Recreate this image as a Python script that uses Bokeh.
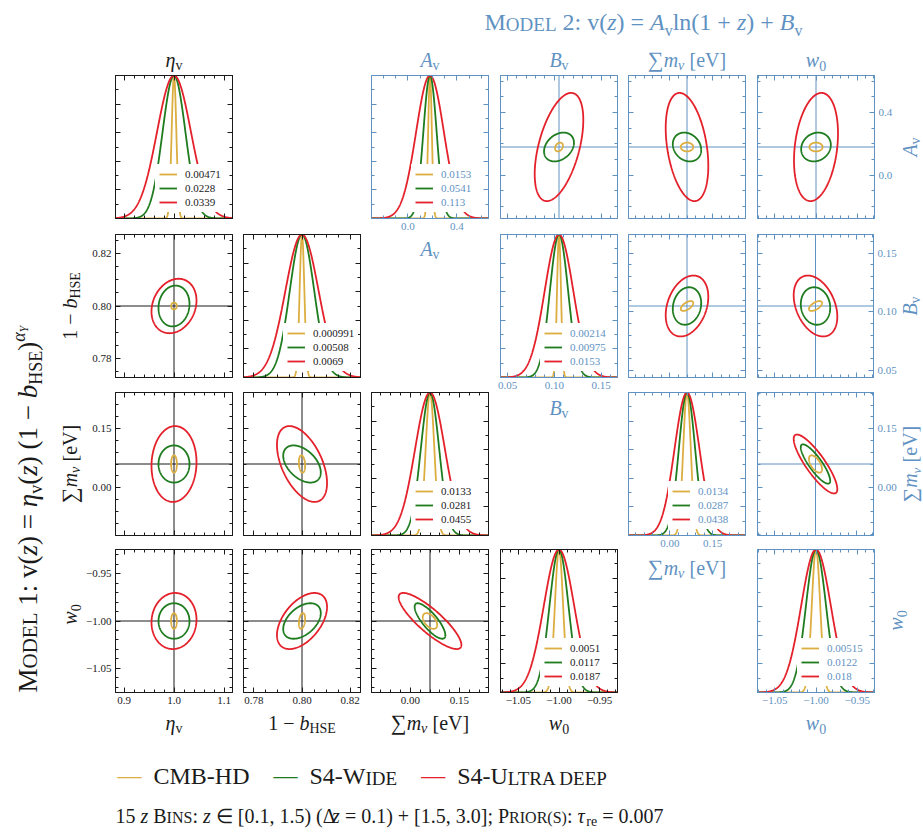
import numpy as np
from bokeh.plotting import figure
from bokeh.models import Range1d, LinearAxis, FixedTicker, Span, Label, Legend, LegendItem, Spacer
from bokeh.layouts import row, column
from bokeh.embed import file_html
from bokeh.resources import INLINE

# ---------------------------------------------------------------- data
experiments = ["CMB-HD", "S4-Wide", "S4-Ultra deep"]
exp_colors = ["#dcae40", "#1e7b1e", "#e4212b"]

# fiducial values
fid_eta, fid_bhse, fid_mnu, fid_w0 = 1.0, 0.80, 0.06, -1.0
fid_Av, fid_Bv = 0.18, 0.105

# Model 1: 1D marginal errors (legend values)  [CMB-HD, S4-Wide, S4-Ultra deep]
m1_sigma_eta = [0.00471, 0.0228, 0.0339]
m1_sigma_bhse = [0.000991, 0.00508, 0.0069]
m1_sigma_mnu = [0.0133, 0.0281, 0.0455]
m1_sigma_w0 = [0.0051, 0.0117, 0.0187]
# Model 1: half extents of the plotted 2D contours
m1_contour_eta = [0.0058, 0.031, 0.045]
m1_contour_bhse = [0.0013, 0.0078, 0.0104]
m1_contour_mnu = [0.022, 0.047, 0.096]
m1_contour_w0 = [0.0083, 0.0188, 0.0297]
# Model 1: correlation coefficients of the contours
m1_corr_eta_bhse = [0.0, 0.1, 0.2]
m1_corr_eta_mnu = [0.0, 0.0, 0.05]
m1_corr_bhse_mnu = [-0.2, -0.45, -0.5]
m1_corr_eta_w0 = [0.0, 0.0, 0.05]
m1_corr_bhse_w0 = [0.3, 0.45, 0.5]
m1_corr_mnu_w0 = [-0.5, -0.8, -0.85]

# Model 2
m2_sigma_Av = [0.0153, 0.0541, 0.113]
m2_sigma_Bv = [0.00214, 0.00975, 0.0153]
m2_sigma_mnu = [0.0134, 0.0287, 0.0438]
m2_sigma_w0 = [0.00515, 0.0122, 0.018]
m2_contour_Av = [0.028, 0.092, 0.345]
m2_contour_Bv = [0.0042, 0.016, 0.026]
m2_contour_mnu = [0.022, 0.050, 0.075]
m2_contour_w0 = [0.008, 0.018, 0.0267]
m2_corr_Av_Bv = [0.3, 0.3, 0.5]
m2_corr_Av_mnu = [0.0, -0.2, -0.35]
m2_corr_Av_w0 = [0.0, 0.15, 0.25]
m2_corr_Bv_mnu = [0.6, 0.15, 0.3]
m2_corr_Bv_w0 = [0.6, -0.1, -0.35]
m2_corr_mnu_w0 = [-0.6, -0.85, -0.85]

# tick values and labels
ticks_eta = [0.9, 1.0, 1.1]
labels_eta = ["0.9", "1.0", "1.1"]
ticks_bhse = [0.78, 0.80, 0.82]
labels_bhse = ["0.78", "0.80", "0.82"]
ticks_mnu = [0.0, 0.15]
labels_mnu = ["0.00", "0.15"]
ticks_w0 = [-1.05, -1.0, -0.95]
labels_w0 = ["\u22121.05", "\u22121.00", "\u22120.95"]
ticks_Av = [0.0, 0.4]
labels_Av = ["0.0", "0.4"]
ticks_Bv = [0.05, 0.10, 0.15]
labels_Bv = ["0.05", "0.10", "0.15"]
ticks_pdf = [0.0, 0.2, 0.4, 0.6, 0.8, 1.0]

# ---------------------------------------------------------------- style / layout
SERIF = "Liberation Serif"
BLACK = "#1a1a1a"
BLUE = "#5f92c2"
FW, FH = 117, 143
FRAMES = {}

W_UP = {' ': .25, '(': .333, ')': .333, '+': .564, ',': .25, '-': .333, '.': .25, ':': .278,
        ';': .278, '=': .564, '[': .333, ']': .333, '\u2212': .564, '\u2211': .72, '\u2208': .64,
        '\u0394': .68, '\u03b7': .5, '\u03c4': .44, '\u03b1': .52, '\u03bd': .46}
for ch in "0123456789":
    W_UP[ch] = .5
W_UP.update(dict(zip("ABCDEFGHIJKLMNOPQRSTUVWXYZ",
                     [.722, .667, .667, .722, .611, .556, .722, .722, .333, .389, .722, .611, .889,
                      .722, .722, .556, .722, .667, .556, .611, .722, .722, .944, .722, .722, .611])))
W_UP.update(dict(zip("abcdefghijklmnopqrstuvwxyz",
                     [.444, .5, .444, .5, .444, .333, .5, .5, .278, .278, .5, .278, .778, .5, .5,
                      .5, .5, .333, .389, .278, .5, .5, .722, .5, .5, .444])))
W_IT = {'A': .611, 'B': .611, 'Y': .556, 'b': .5, 'm': .722, 'w': .667, 'z': .389, 'v': .444}


def tw(s, it=False):
    return sum((W_IT.get(ch, W_UP.get(ch, .5)) if it else W_UP.get(ch, .5)) for ch in s)


def put(p, pieces, px, py, color, angle=0.0, align="left"):
    """Place a run of text pieces (text, size, italic, baseline shift); px, py = baseline in page px."""
    fl, ft, fw, fh = FRAMES[id(p)]
    total = sum(tw(t, it) * s for t, s, it, sh in pieces)
    ca, sa = np.cos(angle), np.sin(angle)
    dx, dy = ca, -sa
    ux, uy = -sa, -ca
    if align == "center":
        sx0, sy0 = px - dx * total / 2, py - dy * total / 2
    else:
        sx0, sy0 = px, py
    adv = 0.0
    for t, s, it, sh in pieces:
        lead = (len(t) - len(t.lstrip(" "))) * 0.25 * s
        a = adv + lead
        up = sh + 0.34 * s
        x = sx0 + dx * a + ux * up
        y = sy0 + dy * a + uy * up
        p.add_layout(Label(x=x - fl, y=ft + fh - y, x_units="screen", y_units="screen",
                           text=t.strip(" "), angle=angle, text_font=SERIF, text_font_size=f"{s}px",
                           text_font_style="italic" if it else "normal", text_color=color,
                           text_align="left", text_baseline="middle"))
        adv += tw(t, it) * s
    return total


def deco_fig(px0, px1, py0, py1, bl=0, br=0, bt=0, bb=0):
    w, h = px1 - px0, py1 - py0
    p = figure(width=w, height=h, x_range=Range1d(0, 1), y_range=Range1d(0, 1),
               x_axis_type=None, y_axis_type=None, toolbar_location=None, output_backend="svg",
               min_border=0, min_border_left=bl, min_border_right=br, min_border_top=bt,
               min_border_bottom=bb, outline_line_color=None, border_fill_color="white",
               background_fill_color="white")
    FRAMES[id(p)] = (px0 + bl, py0 + bt, w - bl - br, h - bt - bb)
    return p


def minor_list(lo, hi, step):
    k0 = int(np.ceil(lo / step - 1e-9))
    k1 = int(np.floor(hi / step + 1e-9))
    return [round(k * step, 6) for k in range(k0, k1 + 1)]


def new_panel(canvas, frame, xr, yr, color):
    cx0, cx1, cy0, cy1 = canvas
    fx, fy = frame
    p = figure(width=cx1 - cx0, height=cy1 - cy0, x_range=Range1d(*xr), y_range=Range1d(*yr),
               x_axis_type=None, y_axis_type=None, toolbar_location=None, output_backend="svg",
               min_border_left=fx - cx0, min_border_right=cx1 - fx - FW, min_border_top=fy - cy0,
               min_border_bottom=cy1 - fy - FH, outline_line_color=color, outline_line_width=1,
               border_fill_color="white", background_fill_color="white")
    FRAMES[id(p)] = (fx, fy, FW, FH)
    return p


def add_axis(p, side, ticks, labels, minor, color, show):
    ax = LinearAxis(ticker=FixedTicker(ticks=ticks, minor_ticks=minor),
                    axis_line_color=color, major_tick_line_color=color, minor_tick_line_color=color,
                    major_tick_in=5, major_tick_out=0, minor_tick_in=3, minor_tick_out=0,
                    major_label_standoff=4 if show else 0, major_label_text_font=SERIF,
                    major_label_text_font_size="11px" if show else "1px",
                    major_label_text_color=color if show else None)
    if show and labels is not None:
        ax.major_label_overrides = {t: l for t, l in zip(ticks, labels)}
    p.add_layout(ax, side)


# axis definitions: fid, half-range on x, half-range on y, ticks, labels, minor step
AX = {
    "eta": (fid_eta, 0.117, 0.117, ticks_eta, labels_eta, 0.02),
    "bhse": (fid_bhse, 0.0243, 0.0273, ticks_bhse, labels_bhse, 0.005),
    "mnu1": (fid_mnu, 0.179, 0.181, ticks_mnu, labels_mnu, 0.03),
    "w01": (fid_w0, 0.072, 0.0757, ticks_w0, labels_w0, 0.01),
    "Av": (fid_Av, 0.477, 0.456, ticks_Av, labels_Av, 0.1),
    "Bv": (fid_Bv, 0.0626, 0.061, ticks_Bv, labels_Bv, 0.01),
    "mnu2": (fid_mnu, 0.206, 0.182, ticks_mnu, labels_mnu, 0.03),
    "w02": (fid_w0, 0.071, 0.0757, ticks_w0, labels_w0, 0.01),
}
SIG = {"eta": m1_sigma_eta, "bhse": m1_sigma_bhse, "mnu1": m1_sigma_mnu, "w01": m1_sigma_w0,
       "Av": m2_sigma_Av, "Bv": m2_sigma_Bv, "mnu2": m2_sigma_mnu, "w02": m2_sigma_w0}
CON = {"eta": m1_contour_eta, "bhse": m1_contour_bhse, "mnu1": m1_contour_mnu, "w01": m1_contour_w0,
       "Av": m2_contour_Av, "Bv": m2_contour_Bv, "mnu2": m2_contour_mnu, "w02": m2_contour_w0}
CORR = {("eta", "bhse"): m1_corr_eta_bhse, ("eta", "mnu1"): m1_corr_eta_mnu,
        ("bhse", "mnu1"): m1_corr_bhse_mnu, ("eta", "w01"): m1_corr_eta_w0,
        ("bhse", "w01"): m1_corr_bhse_w0, ("mnu1", "w01"): m1_corr_mnu_w0,
        ("Bv", "Av"): m2_corr_Av_Bv, ("mnu2", "Av"): m2_corr_Av_mnu, ("w02", "Av"): m2_corr_Av_w0,
        ("mnu2", "Bv"): m2_corr_Bv_mnu, ("w02", "Bv"): m2_corr_Bv_w0,
        ("w02", "mnu2"): m2_corr_mnu_w0}

LBL = {
    "eta": [("\u03b7", 20, True, 0), ("v", 14, False, -4)],
    "bhse": [("1 \u2212 ", 20, False, 0), ("b", 20, True, 0), ("HSE", 14, False, -4)],
    "mnu": [("\u2211", 22, False, 0), ("m", 20, True, 0), ("\u03bd", 14, True, -4), (" [eV]", 20, False, 0)],
    "mnu_r": [("\u2211", 20, False, 0), ("m", 20, True, 0), ("\u03bd", 13, True, -4), (" [eV]", 20, False, 0)],
    "w0": [("w", 20, True, 0), ("0", 14, False, -4)],
    "Av": [("A", 20, True, 0), ("v", 14, False, -4)],
    "Bv": [("B", 20, True, 0), ("v", 14, False, -4)],
}


def rng(key, axis):
    f, hx, hy = AX[key][:3]
    h = hx if axis == "x" else hy
    return (f - h, f + h)


def diag_panel(key, canvas, frame, color, show_bottom):
    f, hx, hy, ticks, labels, mstep = AX[key]
    xr = rng(key, "x")
    p = new_panel(canvas, frame, xr, (0.0, 1.0), color)
    add_axis(p, "below", ticks, labels, minor_list(*xr, mstep), color, show_bottom)
    add_axis(p, "above", ticks, labels, minor_list(*xr, mstep), color, False)
    for side in ("left", "right"):
        add_axis(p, side, ticks_pdf, None, minor_list(0, 1, 0.1), color, False)
    xs = np.linspace(xr[0], xr[1], 500)
    rends = []
    for sig, col in zip(SIG[key], exp_colors):
        ys = np.exp(-0.5 * ((xs - f) / sig) ** 2)
        rends.append(p.line(xs, ys, line_color=col, line_width=1.8))
    leg = Legend(items=[LegendItem(label=str(s), renderers=[r]) for s, r in zip(SIG[key], rends)],
                 location=(40, 6), background_fill_color="white", background_fill_alpha=1.0,
                 border_line_alpha=0, padding=4, spacing=2, margin=0, glyph_height=12,
                 glyph_width=18, label_height=12, label_standoff=8, label_text_font=SERIF,
                 label_text_font_size="11px", label_text_color=color)
    p.add_layout(leg)
    return p


def pair_panel(xkey, ykey, canvas, frame, color, show_bottom=False, show_left=False, show_right=False):
    xf, _, _, xt, xl, xm = AX[xkey]
    yf, _, _, yt, yl, ym = AX[ykey]
    xr, yr = rng(xkey, "x"), rng(ykey, "y")
    p = new_panel(canvas, frame, xr, yr, color)
    add_axis(p, "below", xt, xl, minor_list(*xr, xm), color, show_bottom)
    add_axis(p, "above", xt, xl, minor_list(*xr, xm), color, False)
    add_axis(p, "left", yt, yl, minor_list(*yr, ym), color, show_left)
    add_axis(p, "right", yt, yl, minor_list(*yr, ym), color, show_right)
    p.add_layout(Span(location=xf, dimension="height", line_color=color, line_width=1, level="underlay"))
    p.add_layout(Span(location=yf, dimension="width", line_color=color, line_width=1, level="underlay"))
    t = np.linspace(0, 2 * np.pi, 240)
    for i in (2, 1, 0):
        hx, hy, rho = CON[xkey][i], CON[ykey][i], CORR[(xkey, ykey)][i]
        xs = xf + hx * np.cos(t)
        ys = yf + hy * (rho * np.cos(t) + np.sqrt(1 - rho ** 2) * np.sin(t))
        p.line(xs, ys, line_color=exp_colors[i], line_width=1.8)
    return p


# page geometry (pixels)
CX = [(83, 238, 115), (238, 366, 243), (366, 494, 371), (494, 622, 500), (622, 751, 628), (751, 923, 757)]
RY = [(73, 226, 75), (226, 384, 234), (384, 541, 392), (541, 710, 549)]
HDR = (42, 73)
BOT = (710, 745)


def cv(c, r, x1=None, y1=None):
    cx0, cx1, fx = CX[c]
    cy0, cy1, fy = RY[r]
    return (cx0, x1 if x1 else cx1, cy0, y1 if y1 else cy1), (fx, fy)


def cxc(c):
    return CX[c][2] + FW / 2


def ryc(r):
    return RY[r][2] + FH / 2


def col_fig(c, y0, y1):
    cx0, cx1, fx = CX[c]
    return deco_fig(cx0, cx1, y0, y1, bl=fx - cx0, br=cx1 - fx - FW)


def row_fig(x0, x1, r):
    cy0, cy1, fy = RY[r]
    return deco_fig(x0, x1, cy0, cy1, bt=fy - cy0, bb=cy1 - fy - FH)


def header(c, key, color):
    h = col_fig(c, *HDR)
    put(h, LBL[key], cxc(c), 66, color, align="center")
    return h


def bottom_label(c, key, color, y0=BOT[0], y1=BOT[1], base=729):
    b = col_fig(c, y0, y1)
    put(b, LBL[key], cxc(c), base, color, align="center")
    return b


# ---------------------------------------------------------------- Model 1 (black)
f00 = diag_panel("eta", *cv(0, 0), BLACK, False)
f10 = pair_panel("eta", "bhse", *cv(0, 1), BLACK, show_left=True)
f20 = pair_panel("eta", "mnu1", *cv(0, 2), BLACK, show_left=True)
f30 = pair_panel("eta", "w01", *cv(0, 3), BLACK, show_left=True, show_bottom=True)
f11 = diag_panel("bhse", *cv(1, 1), BLACK, False)
f21 = pair_panel("bhse", "mnu1", *cv(1, 2), BLACK)
f31 = pair_panel("bhse", "w01", *cv(1, 3), BLACK, show_bottom=True)
f22 = diag_panel("mnu1", *cv(2, 2), BLACK, False)
f32 = pair_panel("mnu1", "w01", *cv(2, 3), BLACK, show_bottom=True)
f33 = diag_panel("w01", *cv(3, 3), BLACK, True)

# ---------------------------------------------------------------- Model 2 (blue)
fAv = diag_panel("Av", *cv(2, 0, y1=238), BLUE, True)
fBvAv = pair_panel("Bv", "Av", *cv(3, 0), BLUE)
fmAv = pair_panel("mnu2", "Av", *cv(4, 0), BLUE)
fwAv = pair_panel("w02", "Av", *cv(5, 0, x1=899), BLUE, show_right=True)
fBv = diag_panel("Bv", *cv(3, 1, y1=397), BLUE, True)
fmBv = pair_panel("mnu2", "Bv", *cv(4, 1), BLUE)
fwBv = pair_panel("w02", "Bv", *cv(5, 1, x1=899), BLUE, show_right=True)
fm2 = diag_panel("mnu2", *cv(4, 2, y1=555), BLUE, True)
fwm = pair_panel("w02", "mnu2", *cv(5, 2, x1=899), BLUE, show_right=True)
fw2 = diag_panel("w02", *cv(5, 3, x1=884), BLUE, True)

# right-hand rotated labels of Model 2
rl0 = row_fig(899, 923, 0)
put(rl0, LBL["Av"], 916, ryc(0), BLUE, angle=np.pi / 2, align="center")
rl1 = row_fig(899, 923, 1)
put(rl1, LBL["Bv"], 916, ryc(1), BLUE, angle=np.pi / 2, align="center")
rl2 = row_fig(899, 923, 2)
put(rl2, LBL["mnu_r"], 916, ryc(2), BLUE, angle=np.pi / 2, align="center")
rl3 = row_fig(884, 923, 3)
put(rl3, LBL["w0"], 902, 620, BLUE, angle=np.pi / 2, align="center")

# left-hand rotated labels of Model 1
ll1 = deco_fig(50, 83, *RY[1][:2])
put(ll1, LBL["bhse"], 76, ryc(1), BLACK, angle=np.pi / 2, align="center")
ll2 = deco_fig(50, 83, *RY[2][:2])
put(ll2, LBL["mnu"], 76, ryc(2), BLACK, angle=np.pi / 2, align="center")
ll3 = deco_fig(50, 83, *RY[3][:2])
put(ll3, LBL["w0"], 76, 614, BLACK, angle=np.pi / 2, align="center")

# ---------------------------------------------------------------- titles, legend, footer
title = deco_fig(0, 923, 0, 42)
put(title, [("M", 24, False, 0), ("ODEL", 19, False, 0), (" 2: v(", 24, False, 0), ("z", 24, True, 0),
            (") = ", 24, False, 0), ("A", 24, True, 0), ("v", 16, False, -5), ("ln(1 + ", 24, False, 0),
            ("z", 24, True, 0), (") + ", 24, False, 0), ("B", 24, True, 0), ("v", 16, False, -5)],
    484, 30, BLUE)

left = deco_fig(0, 50, 42, 745)
put(left, [("M", 27, False, 0), ("ODEL", 21, False, 0), (" 1: v(", 27, False, 0), ("z", 27, True, 0),
           (") = ", 27, False, 0), ("\u03b7", 27, True, 0), ("v", 18, False, -5), ("(", 27, False, 0),
           ("z", 27, True, 0), (") (1 \u2212 ", 27, False, 0), ("b", 27, True, 0),
           ("HSE", 18, False, -5), (")", 27, False, 0), ("\u03b1", 18, True, 12), ("Y", 12, True, 9)],
    37, 692, BLACK, angle=np.pi / 2)

bottom = deco_fig(0, 923, 745, 833)
leg_x, leg_y = 117, 784
leg_pieces = [[("CMB-HD", 24, False, 0)],
              [("S4-W", 24, False, 0), ("IDE", 19, False, 0)],
              [("S4-U", 24, False, 0), ("LTRA DEEP", 19, False, 0)]]
x = leg_x
for col, pcs in zip(exp_colors, leg_pieces):
    put(bottom, [("\u2014", 24, False, 0)], x, leg_y - 1, col)
    x += 23 + 13
    x += put(bottom, pcs, x, leg_y, BLACK) + 24

put(bottom, [("15 ", 20, False, 0), ("z", 20, True, 0), (" B", 20, False, 0), ("INS", 16, False, 0),
             (": ", 20, False, 0), ("z", 20, True, 0), (" \u2208 [0.1, 1.5) (\u0394", 20, False, 0),
             ("z", 20, True, 0), (" = 0.1) + [1.5, 3.0]; P", 20, False, 0), ("RIOR(S)", 16, False, 0),
             (": ", 20, False, 0), ("\u03c4", 20, True, 0), ("re", 14, False, -4),
             (" = 0.007", 20, False, 0)],
    115, 822, BLACK)

# ---------------------------------------------------------------- layout
strip = column(Spacer(width=33, height=184), ll1, ll2, ll3, Spacer(width=33, height=35))
col1 = column(header(0, "eta", BLACK), f00, f10, f20, f30, bottom_label(0, "eta", BLACK))
col2 = column(Spacer(width=128, height=184), f11, f21, f31, bottom_label(1, "bhse", BLACK))
col3 = column(header(2, "Av", BLUE), fAv, bottom_label(2, "Av", BLUE, 238, 262, 255),
              Spacer(width=128, height=122), f22, f32, bottom_label(2, "mnu", BLACK))
col4 = column(header(3, "Bv", BLUE), fBvAv, fBv, bottom_label(3, "Bv", BLUE, 397, 421, 414),
              Spacer(width=128, height=120), f33, bottom_label(3, "w0", BLACK))
col5 = column(header(4, "mnu", BLUE), fmAv, fmBv, fm2, bottom_label(4, "mnu", BLUE, 555, 581, 574),
              Spacer(width=129, height=164))
col6 = column(header(5, "w0", BLUE), row(fwAv, rl0), row(fwBv, rl1), row(fwm, rl2), row(fw2, rl3),
              bottom_label(5, "w0", BLUE))
page = column(title, row(left, strip, col1, col2, col3, col4, col5, col6), bottom)

open("out.html", "w").write(file_html(page, INLINE, "Fisher forecasts"))
